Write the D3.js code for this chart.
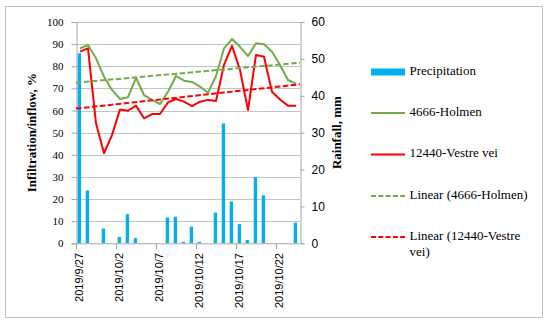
<!DOCTYPE html>
<html>
<head>
<meta charset="utf-8">
<script src="https://cdn.jsdelivr.net/npm/d3@7"></script>
<style>
	body { margin: 0; background: #fff; }
	svg { display: block; }
</style>
</head>
<body>
<svg id="chart" width="550" height="323" viewBox="0 0 550 323"></svg>
<script>

const dates = ["2019/9/27", "2019/9/28", "2019/9/29", "2019/9/30", "2019/10/1", "2019/10/2", "2019/10/3",
	"2019/10/4", "2019/10/5", "2019/10/6", "2019/10/7", "2019/10/8", "2019/10/9", "2019/10/10",
	"2019/10/11", "2019/10/12", "2019/10/13", "2019/10/14", "2019/10/15", "2019/10/16", "2019/10/17",
	"2019/10/18", "2019/10/19", "2019/10/20", "2019/10/21", "2019/10/22", "2019/10/23", "2019/10/24"];

// rainfall, mm (right axis)
const precipitation = [51.5, 14.3, 0, 4.0, 0, 1.7, 7.9, 1.4, 0, 0, 0, 7.0, 7.2, 0.4,
	4.5, 0.4, 0, 8.3, 32.5, 11.3, 5.2, 0.9, 17.9, 13.0, 0, 0, 0, 5.6];

// infiltration/inflow, % (left axis)
const holmen = [88.1, 89.6, 83.6, 75.3, 69.3, 65.2, 66, 74.8, 67, 64.8, 62.9, 68.5, 75.6, 73.5,
	72.9, 70.8, 68, 75.6, 88.1, 92.3, 88.8, 84.6, 90.4, 89.9, 86.6, 80.6, 73.8, 72];
const vestreVei = [86.6, 88.1, 54.2, 40.7, 48.9, 60.5, 59.9, 62.2, 56.5, 58.4, 58.4, 63.7, 65.2, 64,
	62, 64, 64.8, 64.3, 80.6, 89.2, 78.3, 60.2, 85.1, 84.3, 68.5, 65, 62.2, 62.2];

const leftTicks = [0, 10, 20, 30, 40, 50, 60, 70, 80, 90, 100];
const rightTicks = [0, 10, 20, 30, 40, 50, 60];
const legendLabels = ["Precipitation", "4666-Holmen", "12440-Vestre vei", "Linear (4666-Holmen)", "Linear (12440-Vestre vei)"];

const COLOR_BAR = "#00b0f0";
const COLOR_GREEN = "#70ad47";
const COLOR_RED = "#ff0000";
const GRID = "#c4c4c4";
const AXIS = "#a6a6a6";

const svg = d3.select("#chart");

// outer frame
svg.append("rect")
	.attr("x", 5.5).attr("y", 6.5)
	.attr("width", 537).attr("height", 311)
	.attr("fill", "#fff")
	.attr("stroke", "#bfbfbf");

const plot = { left: 76, right: 300, top: 22, bottom: 243.3 };

const x = d3.scaleBand()
	.domain(dates)
	.range([plot.left, plot.right])
	.paddingInner(0.58)
	.paddingOuter(0.29);

// category centre, using the un-padded band
const step = (plot.right - plot.left) / dates.length;
const xc = (i) => plot.left + step * (i + 0.5);

const yLeft = d3.scaleLinear().domain([0, 100]).range([plot.bottom, plot.top]);
const yRight = d3.scaleLinear().domain([0, 60]).range([plot.bottom, plot.top]);

// gridlines
svg.append("g")
	.selectAll("line")
	.data(leftTicks.filter(d => d > 0))
	.enter().append("line")
	.attr("x1", plot.left).attr("x2", plot.right)
	.attr("y1", d => Math.round(yLeft(d)) + 0.5)
	.attr("y2", d => Math.round(yLeft(d)) + 0.5)
	.attr("stroke", GRID);

// left axis
const leftAxis = svg.append("g")
	.attr("transform", "translate(" + (plot.left + 0.5) + ",0)")
	.call(d3.axisLeft(yLeft).tickValues(leftTicks).tickSize(5).tickPadding(8));
leftAxis.select(".domain").attr("stroke", AXIS);
leftAxis.selectAll(".tick line").attr("stroke", AXIS);
leftAxis.selectAll("text")
	.attr("fill", "#000")
	.style("font-family", "'Liberation Serif', serif")
	.style("font-size", "11px");

// right axis
const rightAxis = svg.append("g")
	.attr("transform", "translate(" + (plot.right + 0.5) + ",0)")
	.call(d3.axisRight(yRight).tickValues(rightTicks).tickSize(4).tickPadding(7));
rightAxis.select(".domain").attr("stroke", AXIS);
rightAxis.selectAll(".tick line").attr("stroke", AXIS);
rightAxis.selectAll("text")
	.attr("fill", "#000")
	.style("font-family", "'Liberation Sans', sans-serif")
	.style("font-size", "12px");

// bars
svg.append("g")
	.selectAll("rect")
	.data(precipitation)
	.enter().append("rect")
	.attr("x", (d, i) => x(dates[i]) - 0.6)
	.attr("width", x.bandwidth())
	.attr("y", d => yRight(d))
	.attr("height", d => plot.bottom - yRight(d))
	.attr("fill", COLOR_BAR);

// bottom axis
const bottom = svg.append("g");
bottom.append("line")
	.attr("x1", plot.left).attr("x2", plot.right)
	.attr("y1", plot.bottom + 0.5).attr("y2", plot.bottom + 0.5)
	.attr("stroke", AXIS);
const labelIdx = d3.range(0, dates.length, 5);
bottom.selectAll(".tick")
	.data(labelIdx)
	.enter().append("line")
	.attr("x1", i => Math.round(plot.left + step * i) + 0.5)
	.attr("x2", i => Math.round(plot.left + step * i) + 0.5)
	.attr("y1", plot.bottom).attr("y2", plot.bottom + 6)
	.attr("stroke", AXIS);
bottom.selectAll("text")
	.data(labelIdx)
	.enter().append("text")
	.attr("transform", i => "translate(" + xc(i) + "," + 253 + ") rotate(-90)")
	.attr("text-anchor", "end")
	.attr("dominant-baseline", "middle")
	.style("font-family", "'Liberation Sans', sans-serif")
	.style("font-size", "11px")
	.text(i => dates[i]);

// series lines
const lineGen = d3.line()
	.x((d, i) => xc(i))
	.y(d => yLeft(d));

function trend(values) {
	const n = values.length;
	const mx = d3.mean(values, (d, i) => i);
	const my = d3.mean(values);
	const sxy = d3.sum(values, (d, i) => (i - mx) * (d - my));
	const sxx = d3.sum(values, (d, i) => (i - mx) * (i - mx));
	const b = sxy / sxx;
	const a = my - b * mx;
	return [-0.5, n - 0.5].map(i => [plot.left + step * (i + 0.5), yLeft(a + b * i)]);
}

const series = [
	{ values: holmen, color: COLOR_GREEN },
	{ values: vestreVei, color: COLOR_RED }
];

series.forEach(s => {
	svg.append("path")
		.datum(s.values)
		.attr("d", lineGen)
		.attr("fill", "none")
		.attr("stroke", s.color)
		.attr("stroke-width", 2)
		.attr("stroke-linejoin", "round");
});

series.forEach(s => {
	svg.append("path")
		.datum(trend(s.values))
		.attr("d", d3.line())
		.attr("fill", "none")
		.attr("stroke", s.color)
		.attr("stroke-width", 2)
		.attr("stroke-dasharray", "5.5,2.5");
});

// axis titles
svg.append("text")
	.attr("transform", "translate(33," + ((plot.top + plot.bottom) / 2) + ") rotate(-90)")
	.attr("text-anchor", "middle")
	.attr("dominant-baseline", "middle")
	.style("font-family", "'Liberation Serif', serif")
	.style("font-weight", "bold")
	.style("font-size", "13px")
	.text("Infiltration/inflow, %");

svg.append("text")
	.attr("transform", "translate(338," + ((plot.top + plot.bottom) / 2) + ") rotate(-90)")
	.attr("text-anchor", "middle")
	.attr("dominant-baseline", "middle")
	.style("font-family", "'Liberation Serif', serif")
	.style("font-weight", "bold")
	.style("font-size", "13px")
	.text("Rainfall, mm");

// legend
const legend = svg.append("g").attr("transform", "translate(371,0)");
const legendY = [72, 113, 154.5, 196, 237];
const legendKeys = [
	{ type: "bar", color: COLOR_BAR },
	{ type: "line", color: COLOR_GREEN },
	{ type: "line", color: COLOR_RED },
	{ type: "dash", color: COLOR_GREEN },
	{ type: "dash", color: COLOR_RED }
];

legendKeys.forEach((k, i) => {
	const y = legendY[i];
	if (k.type === "bar") {
		legend.append("rect")
			.attr("x", 0).attr("y", y - 3.5)
			.attr("width", 34).attr("height", 7)
			.attr("fill", k.color);
	} else {
		legend.append("line")
			.attr("x1", 0).attr("x2", 34)
			.attr("y1", y).attr("y2", y)
			.attr("stroke", k.color)
			.attr("stroke-width", 2)
			.attr("stroke-dasharray", k.type === "dash" ? "5,2.3" : null);
	}
	const t = legend.append("text")
		.attr("x", 38.5).attr("y", y)
		.attr("dominant-baseline", "middle")
		.style("font-family", "'Liberation Serif', serif")
		.style("font-size", "13px");
	if (i === 4) {
		t.append("tspan").attr("x", 38.5).text("Linear (12440-Vestre");
		t.append("tspan").attr("x", 38.5).attr("dy", 16).text("vei)");
	} else {
		t.text(legendLabels[i]);
	}
});

</script>
</body>
</html>
